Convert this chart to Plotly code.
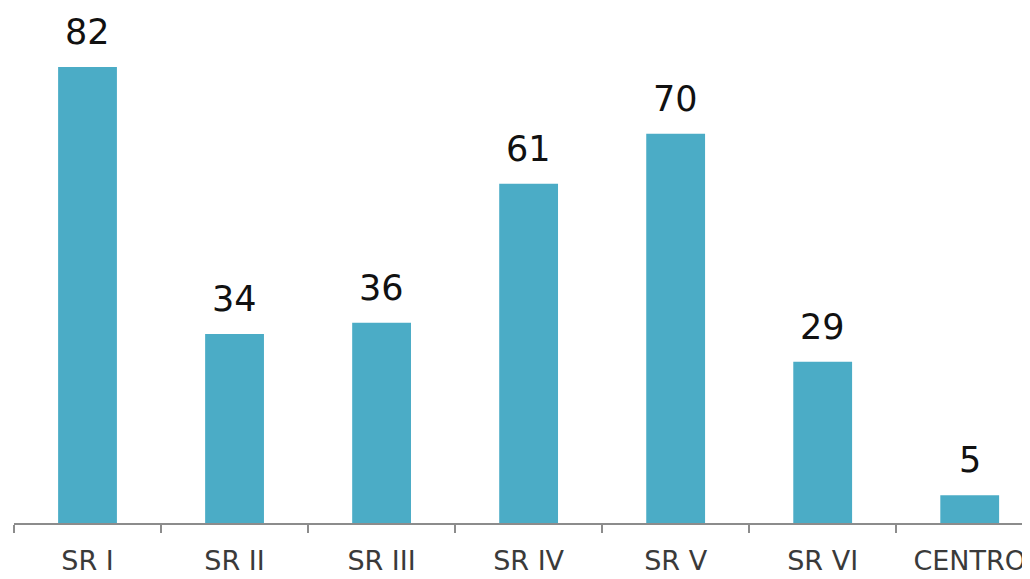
import plotly.graph_objects as go

categories = ["SR I", "SR II", "SR III", "SR IV", "SR V", "SR VI", "CENTRO"]
values = [82, 34, 36, 61, 70, 29, 5]

bar_color = "#4BACC6"

fig = go.Figure()
fig.add_trace(go.Bar(
    x=categories,
    y=values,
    marker=dict(color=bar_color, line=dict(width=0)),
    width=0.40,
    hoverinfo="x+y",
))

for c, v in zip(categories, values):
    fig.add_annotation(
        x=c, y=v, text=str(v), showarrow=False,
        yanchor="bottom", yshift=13,
        font=dict(family="DejaVu Sans", size=35, color="#111111"),
    )

# page body has an 8px default margin, so the figure is sized to fit the window
fig.update_layout(
    width=1022, height=571,
    margin=dict(l=6, r=0, t=15, b=56, autoexpand=False),
    paper_bgcolor="white", plot_bgcolor="white",
    showlegend=False,
    xaxis=dict(
        type="category",
        range=[-0.5, 6.41],
        automargin=False,
        showline=True, linecolor="#8c8c8c", linewidth=1.5,
        ticks="outside", tickson="boundaries", ticklen=8, tickcolor="#8c8c8c", tickwidth=1.5,
        ticklabelstandoff=13,
        tickfont=dict(family="DejaVu Sans", size=27, color="#3a3a3a"),
        showgrid=False, zeroline=False,
    ),
    yaxis=dict(
        range=[0, 89.9], visible=False, showgrid=False, zeroline=False,
        automargin=False,
    ),
)

fig.write_html("out.html")
